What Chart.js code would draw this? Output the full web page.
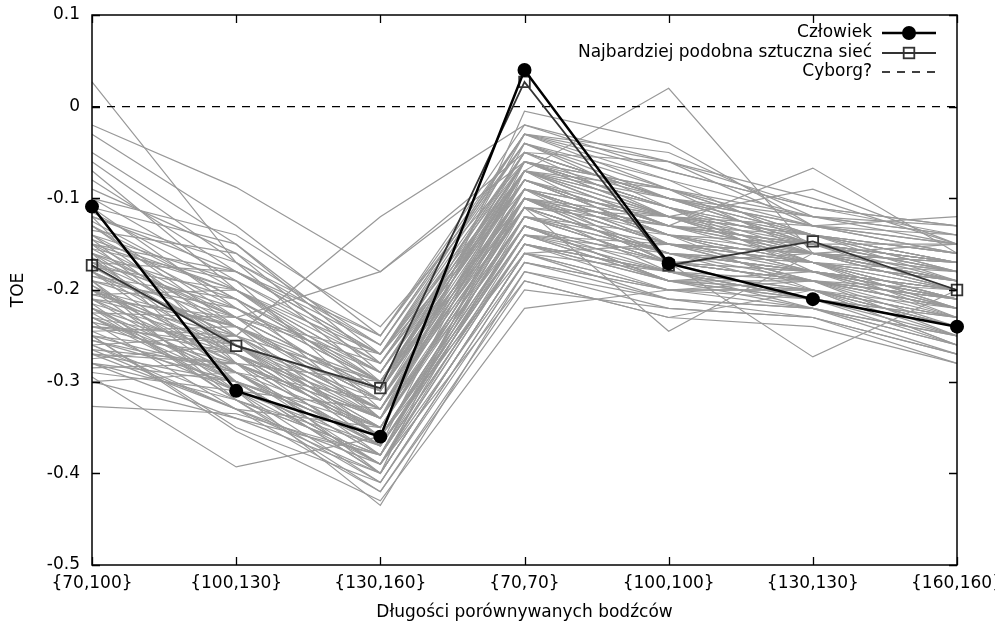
<!DOCTYPE html>
<html>
<head>
<meta charset="utf-8">
<script src="https://cdn.jsdelivr.net/npm/chart.js@4.4.1/dist/chart.umd.min.js"></script>
<style>
  html, body { margin: 0; padding: 0; overflow: hidden; background: #fff; }
  #wrap { width: 1040px; height: 624px; }
</style>
</head>
<body>
<div id="wrap"><canvas id="js--chart"></canvas></div>
<script>
// kategorie na osi x
const categories = ["{70,100}", "{100,130}", "{130,160}", "{70,70}", "{100,100}", "{130,130}", "{160,160}"];

// wyniki czlowieka i najbardziej podobnej sieci
const human = [-0.109, -0.310, -0.360, 0.040, -0.171, -0.210, -0.240];
const bestNet = [-0.173, -0.261, -0.307, 0.027, -0.173, -0.147, -0.200];
const cyborg = [0, 0, 0, 0, 0, 0, 0];

const nets = [
    [0.027, -0.170, -0.300, -0.060, -0.120, -0.170, -0.180],
    [-0.020, -0.088, -0.180, -0.060, -0.110, -0.150, -0.170],
    [-0.030, -0.130, -0.250, -0.030, -0.090, -0.140, -0.160],
    [-0.050, -0.150, -0.280, -0.070, -0.130, -0.160, -0.190],
    [-0.060, -0.170, -0.260, -0.040, -0.100, -0.120, -0.150],
    [-0.070, -0.200, -0.310, -0.080, -0.140, -0.180, -0.200],
    [-0.090, -0.160, -0.290, -0.050, -0.060, -0.130, -0.140],
    [-0.100, -0.190, -0.330, -0.090, -0.150, -0.170, -0.220],
    [-0.110, -0.220, -0.300, -0.100, -0.170, -0.190, -0.210],
    [-0.120, -0.180, -0.270, -0.060, -0.110, -0.140, -0.180],
    [-0.125, -0.210, -0.340, -0.120, -0.160, -0.200, -0.240],
    [-0.130, -0.240, -0.320, -0.110, -0.180, -0.210, -0.230],
    [-0.135, -0.160, -0.260, -0.030, -0.080, -0.120, -0.130],
    [-0.140, -0.250, -0.360, -0.130, -0.190, -0.220, -0.250],
    [-0.145, -0.200, -0.290, -0.070, -0.120, -0.160, -0.170],
    [-0.150, -0.230, -0.310, -0.090, -0.140, -0.180, -0.200],
    [-0.150, -0.270, -0.380, -0.150, -0.200, -0.200, -0.260],
    [-0.155, -0.190, -0.280, -0.050, -0.100, -0.150, -0.150],
    [-0.160, -0.260, -0.350, -0.120, -0.170, -0.190, -0.220],
    [-0.160, -0.210, -0.300, -0.080, -0.130, -0.170, -0.190],
    [-0.165, -0.280, -0.400, -0.160, -0.210, -0.230, -0.270],
    [-0.170, -0.220, -0.320, -0.100, -0.150, -0.160, -0.180],
    [-0.170, -0.240, -0.330, -0.110, -0.160, -0.190, -0.210],
    [-0.175, -0.200, -0.270, -0.040, -0.090, -0.130, -0.160],
    [-0.180, -0.290, -0.370, -0.140, -0.180, -0.210, -0.240],
    [-0.180, -0.250, -0.340, -0.120, -0.170, -0.180, -0.200],
    [-0.185, -0.230, -0.310, -0.090, -0.140, -0.170, -0.190],
    [-0.190, -0.300, -0.390, -0.170, -0.200, -0.220, -0.260],
    [-0.190, -0.220, -0.290, -0.060, -0.110, -0.150, -0.170],
    [-0.195, -0.270, -0.360, -0.130, -0.190, -0.200, -0.230],
    [-0.200, -0.260, -0.350, -0.100, -0.150, -0.170, -0.210],
    [-0.200, -0.310, -0.410, -0.180, -0.220, -0.230, -0.270],
    [-0.205, -0.240, -0.300, -0.070, -0.120, -0.140, -0.170],
    [-0.210, -0.280, -0.370, -0.140, -0.170, -0.190, -0.220],
    [-0.210, -0.250, -0.330, -0.110, -0.160, -0.180, -0.200],
    [-0.215, -0.320, -0.420, -0.190, -0.230, -0.240, -0.280],
    [-0.220, -0.270, -0.340, -0.090, -0.140, -0.160, -0.190],
    [-0.220, -0.290, -0.380, -0.150, -0.180, -0.200, -0.240],
    [-0.225, -0.230, -0.280, -0.050, -0.100, -0.130, -0.150],
    [-0.230, -0.300, -0.360, -0.120, -0.160, -0.180, -0.210],
    [-0.230, -0.260, -0.320, -0.080, -0.130, -0.150, -0.180],
    [-0.235, -0.330, -0.400, -0.160, -0.200, -0.210, -0.250],
    [-0.240, -0.280, -0.350, -0.100, -0.140, -0.170, -0.200],
    [-0.240, -0.250, -0.300, -0.060, -0.110, -0.140, -0.160],
    [-0.245, -0.310, -0.390, -0.140, -0.190, -0.200, -0.230],
    [-0.250, -0.350, -0.410, -0.170, -0.210, -0.220, -0.260],
    [-0.250, -0.270, -0.330, -0.090, -0.150, -0.160, -0.190],
    [-0.255, -0.290, -0.370, -0.130, -0.170, -0.190, -0.220],
    [-0.260, -0.250, -0.120, -0.020, -0.060, -0.110, -0.140],
    [-0.260, -0.320, -0.380, -0.110, -0.160, -0.170, -0.210],
    [-0.265, -0.280, -0.340, -0.080, -0.120, -0.150, -0.180],
    [-0.270, -0.330, -0.390, -0.150, -0.180, -0.210, -0.240],
    [-0.270, -0.300, -0.350, -0.100, -0.150, -0.160, -0.200],
    [-0.275, -0.260, -0.310, -0.070, -0.130, -0.140, -0.170],
    [-0.280, -0.340, -0.400, -0.160, -0.200, -0.200, -0.250],
    [-0.280, -0.300, -0.360, -0.120, -0.170, -0.180, -0.220],
    [-0.290, -0.310, -0.370, -0.130, -0.190, -0.190, -0.230],
    [-0.295, -0.393, -0.360, -0.140, -0.190, -0.210, -0.240],
    [-0.300, -0.290, -0.320, -0.090, -0.140, -0.150, -0.190],
    [-0.327, -0.335, -0.380, -0.150, -0.180, -0.200, -0.230],
    [-0.250, -0.354, -0.430, -0.220, -0.200, -0.190, -0.250],
    [-0.150, -0.200, -0.300, -0.110, -0.245, -0.160, -0.200],
    [-0.180, -0.250, -0.330, -0.100, -0.170, -0.273, -0.200],
    [-0.140, -0.220, -0.300, -0.080, -0.130, -0.067, -0.160],
    [-0.200, -0.270, -0.340, -0.070, 0.020, -0.160, -0.150],
    [-0.160, -0.230, -0.180, -0.050, -0.100, -0.140, -0.170],
    [-0.120, -0.280, -0.350, -0.110, -0.120, -0.090, -0.150],
    [-0.230, -0.310, -0.435, -0.180, -0.210, -0.220, -0.270],
    [-0.210, -0.300, -0.390, -0.190, -0.230, -0.200, -0.260],
    [-0.170, -0.260, -0.360, -0.005, -0.040, -0.130, -0.120],
    [-0.190, -0.240, -0.310, -0.030, -0.050, -0.120, -0.140],
    [-0.200, -0.280, -0.370, -0.060, -0.090, -0.160, -0.170],
    [-0.220, -0.300, -0.400, -0.070, -0.110, -0.170, -0.230],
    [-0.240, -0.260, -0.340, -0.040, -0.080, -0.150, -0.180],
    [-0.150, -0.180, -0.250, -0.020, -0.070, -0.110, -0.130],
    [-0.130, -0.210, -0.290, -0.060, -0.120, -0.140, -0.160],
    [-0.260, -0.330, -0.420, -0.200, -0.220, -0.230, -0.280],
    [-0.180, -0.270, -0.360, -0.140, -0.150, -0.190, -0.210],
    [-0.110, -0.150, -0.270, -0.070, -0.100, -0.130, -0.150],
    [-0.300, -0.340, -0.380, -0.100, -0.130, -0.160, -0.200],
    [-0.115, -0.200, -0.280, -0.080, -0.140, -0.150, -0.170],
    [-0.140, -0.190, -0.270, -0.090, -0.120, -0.160, -0.190],
    [-0.155, -0.240, -0.320, -0.060, -0.100, -0.140, -0.180],
    [-0.165, -0.230, -0.340, -0.130, -0.180, -0.190, -0.200],
    [-0.175, -0.260, -0.310, -0.050, -0.120, -0.170, -0.210],
    [-0.185, -0.210, -0.300, -0.100, -0.160, -0.180, -0.230],
    [-0.195, -0.290, -0.350, -0.110, -0.130, -0.150, -0.170],
    [-0.205, -0.200, -0.290, -0.080, -0.140, -0.200, -0.220],
    [-0.215, -0.260, -0.370, -0.150, -0.190, -0.180, -0.210],
    [-0.225, -0.310, -0.330, -0.070, -0.090, -0.140, -0.190],
    [-0.235, -0.270, -0.360, -0.120, -0.150, -0.190, -0.240],
    [-0.245, -0.240, -0.320, -0.090, -0.170, -0.160, -0.180],
    [-0.255, -0.300, -0.400, -0.160, -0.180, -0.220, -0.250],
    [-0.265, -0.330, -0.350, -0.100, -0.120, -0.130, -0.160],
    [-0.285, -0.280, -0.340, -0.110, -0.160, -0.170, -0.200],
    [-0.120, -0.170, -0.250, -0.040, -0.110, -0.160, -0.170],
    [-0.130, -0.230, -0.310, -0.070, -0.150, -0.180, -0.210],
    [-0.100, -0.140, -0.240, -0.060, -0.090, -0.120, -0.140],
    [-0.080, -0.180, -0.270, -0.030, -0.070, -0.110, -0.130],
    [-0.160, -0.300, -0.390, -0.150, -0.190, -0.210, -0.230],
    [-0.190, -0.320, -0.410, -0.170, -0.200, -0.200, -0.240],
    [-0.210, -0.230, -0.270, -0.050, -0.100, -0.150, -0.200],
    [-0.230, -0.290, -0.380, -0.130, -0.170, -0.210, -0.260],
    [-0.170, -0.180, -0.260, -0.030, -0.060, -0.100, -0.150],
    [-0.250, -0.290, -0.390, -0.120, -0.140, -0.170, -0.190],
    [-0.280, -0.320, -0.370, -0.140, -0.160, -0.180, -0.210],
    [-0.200, -0.240, -0.360, -0.160, -0.150, -0.170, -0.220],
    [-0.145, -0.260, -0.330, -0.100, -0.130, -0.150, -0.170],
    [-0.270, -0.280, -0.300, -0.070, -0.110, -0.180, -0.220],
    [-0.220, -0.320, -0.380, -0.090, -0.120, -0.140, -0.170]
];

const FONT = "'DejaVu Sans', sans-serif";
const FS = 17;

// pierwsza narysowana na wierzchu
const datasets = [
    {
        label: "Człowiek",
        data: human,
        borderColor: "#000",
        backgroundColor: "#000",
        borderWidth: 2.5,
        pointRadius: 7,
        pointBorderWidth: 0,
        pointStyle: "circle",
        clip: false
    },
    {
        label: "Najbardziej podobna sztuczna sieć",
        data: bestNet,
        borderColor: "#333",
        backgroundColor: "transparent",
        borderWidth: 1.8,
        pointRadius: 7.5,
        pointBorderWidth: 1.8,
        pointBorderColor: "#333",
        pointStyle: "rect",
        clip: false
    },
    {
        label: "Cyborg?",
        data: cyborg,
        borderColor: "#000",
        borderWidth: 1.3,
        borderDash: [8, 7],
        pointRadius: 0
    }
];

nets.forEach(function (row) {
    datasets.push({
        data: row,
        borderColor: "#999999",
        borderWidth: 1.2,
        pointRadius: 0
    });
});

// ramka, znaczniki do srodka i legenda w stylu gnuplota
const framePlugin = {
    id: "frame",
    afterDatasetsDraw(chart) {
        const ctx = chart.ctx;
        const a = chart.chartArea;
        const xs = chart.scales.x;
        const ys = chart.scales.y;
        ctx.save();
        ctx.strokeStyle = "#000";
        ctx.lineWidth = 1.3;
        ctx.beginPath();
        xs.ticks.forEach(function (t, i) {
            const px = Math.round(xs.getPixelForTick(i)) + 0.5;
            ctx.moveTo(px, a.bottom); ctx.lineTo(px, a.bottom - 8);
            ctx.moveTo(px, a.top); ctx.lineTo(px, a.top + 8);
        });
        ys.ticks.forEach(function (t, i) {
            const py = Math.round(ys.getPixelForTick(i)) + 0.5;
            ctx.moveTo(a.left, py); ctx.lineTo(a.left + 8, py);
            ctx.moveTo(a.right, py); ctx.lineTo(a.right - 8, py);
        });
        ctx.stroke();
        ctx.lineWidth = 1.5;
        ctx.strokeRect(a.left, a.top, a.right - a.left, a.bottom - a.top);

        // legenda
        ctx.font = FS + "px " + FONT;
        ctx.fillStyle = "#000";
        ctx.textAlign = "right";
        ctx.textBaseline = "middle";
        const tx = 872, x0 = 882, x1 = 936, xm = 909;
        const rows = [33, 53, 72];
        ctx.fillText(datasets[0].label, tx, rows[0]);
        ctx.fillText(datasets[1].label, tx, rows[1]);
        ctx.fillText(datasets[2].label, tx, rows[2]);

        ctx.strokeStyle = "#000";
        ctx.lineWidth = 2.5;
        ctx.beginPath(); ctx.moveTo(x0, rows[0]); ctx.lineTo(x1, rows[0]); ctx.stroke();
        ctx.beginPath(); ctx.arc(xm, rows[0], 7, 0, Math.PI * 2); ctx.fill();

        ctx.strokeStyle = "#333";
        ctx.lineWidth = 1.8;
        ctx.beginPath(); ctx.moveTo(x0, rows[1]); ctx.lineTo(x1, rows[1]); ctx.stroke();
        ctx.strokeRect(xm - 5.3, rows[1] - 5.3, 10.6, 10.6);

        ctx.strokeStyle = "#000";
        ctx.lineWidth = 1.3;
        ctx.setLineDash([8, 7]);
        ctx.beginPath(); ctx.moveTo(x0, rows[2]); ctx.lineTo(x1, rows[2]); ctx.stroke();
        ctx.restore();
    }
};

const config = {
    type: "line",
    data: { labels: categories, datasets: datasets },
    options: {
        responsive: true,
        maintainAspectRatio: false,
        animation: false,
        layout: { padding: { left: 0, top: 15, right: 83, bottom: 0 } },
        elements: { line: { tension: 0 } },
        plugins: {
            legend: { display: false },
            tooltip: { enabled: false }
        },
        scales: {
            x: {
                type: "category",
                offset: false,
                grid: { display: false, drawTicks: false },
                border: { display: false },
                ticks: {
                    color: "#000",
                    font: { family: FONT, size: FS },
                    padding: 8,
                    maxRotation: 0,
                    autoSkip: false
                },
                title: {
                    display: true,
                    text: "Długości porównywanych bodźców",
                    color: "#000",
                    font: { family: FONT, size: FS },
                    padding: { top: 0, bottom: 1 }
                },
                afterFit(scale) {
                    scale.height = 59;
                    scale.paddingLeft = 0;
                    scale.paddingRight = 0;
                }
            },
            y: {
                min: -0.5,
                max: 0.1,
                grid: { display: false, drawTicks: false },
                border: { display: false },
                ticks: {
                    stepSize: 0.1,
                    color: "#000",
                    font: { family: FONT, size: FS },
                    padding: 12,
                    callback: function (v) {
                        const r = Math.round(v * 10) / 10;
                        return r === 0 ? "0" : r.toFixed(1);
                    }
                },
                title: {
                    display: true,
                    text: "TOE",
                    color: "#000",
                    font: { family: FONT, size: FS },
                    padding: { top: 8, bottom: 0 }
                },
                afterFit(scale) {
                    scale.width = 92;
                    scale.paddingTop = 0;
                    scale.paddingBottom = 0;
                }
            }
        }
    },
    plugins: [framePlugin]
};

new Chart(document.getElementById("js--chart"), config);
</script>
</body>
</html>
